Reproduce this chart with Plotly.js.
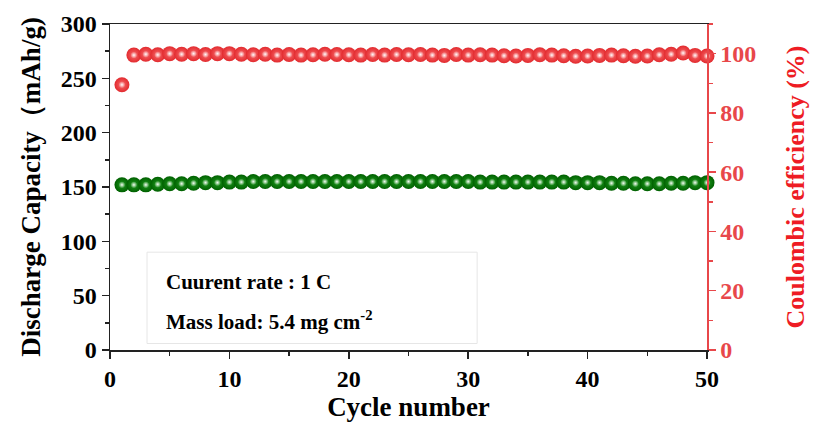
<!DOCTYPE html>
<html>
<head>
<meta charset="utf-8">
<script src="https://cdn.plot.ly/plotly-3.0.1.min.js"></script>
<style>html,body{margin:0;padding:0;background:#fff;}#chart{width:815px;height:423px;}</style>
</head>
<body>
<div id="chart"></div>
<script>
const cycles = [1,2,3,4,5,6,7,8,9,10,11,12,13,14,15,16,17,18,19,20,21,22,23,24,25,26,27,28,29,30,31,32,33,34,35,36,37,38,39,40,41,42,43,44,45,46,47,48,49,50];
const capacity = [152,152,152,152.5,153,153,153.5,154,154,154.5,154.5,155,155,155,155,155,155,155,155,155,155,155,155,155,155,155,155,155,155,155,154.5,154.5,154.5,154.5,154.5,154.5,154.5,154.5,154,154,154,153.5,153.5,153,153,153,153.5,153.5,154,154];
const efficiency = [89.5,99.5,99.8,99.6,100,99.8,100,99.7,100,100,99.8,99.6,99.8,99.5,99.7,99.5,99.6,99.8,99.7,99.6,99.5,99.7,99.5,99.7,99.6,99.7,99.5,99.4,99.7,99.5,99.6,99.5,99.3,99.2,99.4,99.6,99.5,99.3,99.1,99.2,99.4,99.5,99.3,99.1,99.2,99.6,99.8,100.2,99.4,99.2];

const serif = "Liberation Serif, Times New Roman, serif";
const red = "#e8474a";

function sphere(y, axis, edge, mid) {
  return [
    {x: cycles, y: y, type: "scatter", mode: "markers", yaxis: axis, hoverinfo: "skip",
     marker: {size: 15, color: edge, gradient: {type: "radial", color: mid}, line: {width: 0}},
     showlegend: false, cliponaxis: false},
    {x: cycles, y: y, type: "scatter", mode: "markers", yaxis: axis, hoverinfo: "skip",
     marker: {size: 7, color: "rgba(255,255,255,0)", gradient: {type: "radial", color: "rgba(255,255,255,0.95)"}, line: {width: 0}},
     showlegend: false, cliponaxis: false}
  ];
}

const traces = [].concat(
  sphere(capacity, "y", "#006000", "#1f9a1f"),
  sphere(efficiency, "y2", "#e22a2e", "#f86a6c")
);

const layout = {
  width: 815, height: 423,
  margin: {l: 110, r: 108, t: 24, b: 73},
  paper_bgcolor: "#fff", plot_bgcolor: "#fff",
  font: {family: serif, color: "#000"},
  xaxis: {
    range: [0, 50], dtick: 10, tick0: 0, showgrid: false, zeroline: false,
    showline: true, linecolor: "#222", linewidth: 1.5, mirror: true,
    ticks: "outside", ticklen: 7, tickwidth: 1.5, tickcolor: "#222",
    minor: {dtick: 5, ticks: "outside", ticklen: 4, tickwidth: 1.5, tickcolor: "#222"},
    tickfont: {family: serif, size: 24, color: "#000", weight: "bold"},
    title: {text: "<b>Cycle number</b>", font: {family: serif, size: 27, color: "#000"}, standoff: 0}
  },
  yaxis: {
    range: [0, 300], dtick: 50, showgrid: false, zeroline: false,
    showline: true, linecolor: "#222", linewidth: 1.5,
    ticks: "outside", ticklen: 7, tickwidth: 1.5, tickcolor: "#222",
    minor: {dtick: 25, ticks: "outside", ticklen: 4, tickwidth: 1.5, tickcolor: "#222"},
    tickfont: {family: serif, size: 24, color: "#000", weight: "bold"},
    title: {text: "<b>Discharge Capacity（mAh/g)</b>", font: {family: serif, size: 27, color: "#000"}, standoff: 12}
  },
  yaxis2: {
    range: [0, 110], dtick: 20, overlaying: "y", side: "right", showgrid: false, zeroline: false,
    showline: true, linecolor: red, linewidth: 1.5,
    ticks: "outside", ticklen: 7, tickwidth: 1.5, tickcolor: red,
    minor: {dtick: 10, ticks: "outside", ticklen: 4, tickwidth: 1.5, tickcolor: red},
    tickfont: {family: serif, size: 24, color: red, weight: "bold"},
    title: {text: "<b>Coulombic efficiency (%)</b>", font: {family: serif, size: 26, color: "#ee1c24"}, standoff: 30}
  },
  shapes: [
    {type: "rect", xref: "paper", yref: "paper", x0: 0.062, x1: 0.615, y0: 0.02, y1: 0.30,
     line: {color: "#e6e6e6", width: 1}, fillcolor: "rgba(0,0,0,0)"}
  ],
  annotations: [
    {xref: "paper", yref: "paper", x: 0.09, y: 0.21, xanchor: "left", yanchor: "middle", showarrow: false,
     text: "<b>Cuurent rate : 1 C</b>", font: {family: serif, size: 21, color: "#000"}},
    {xref: "paper", yref: "paper", x: 0.09, y: 0.09, xanchor: "left", yanchor: "middle", showarrow: false,
     text: "<b>Mass load: 5.4 mg cm<sup>-2</sup></b>", font: {family: serif, size: 21, color: "#000"}}
  ]
};

Plotly.newPlot("chart", traces, layout, {displayModeBar: false, staticPlot: true});
</script>
</body>
</html>
